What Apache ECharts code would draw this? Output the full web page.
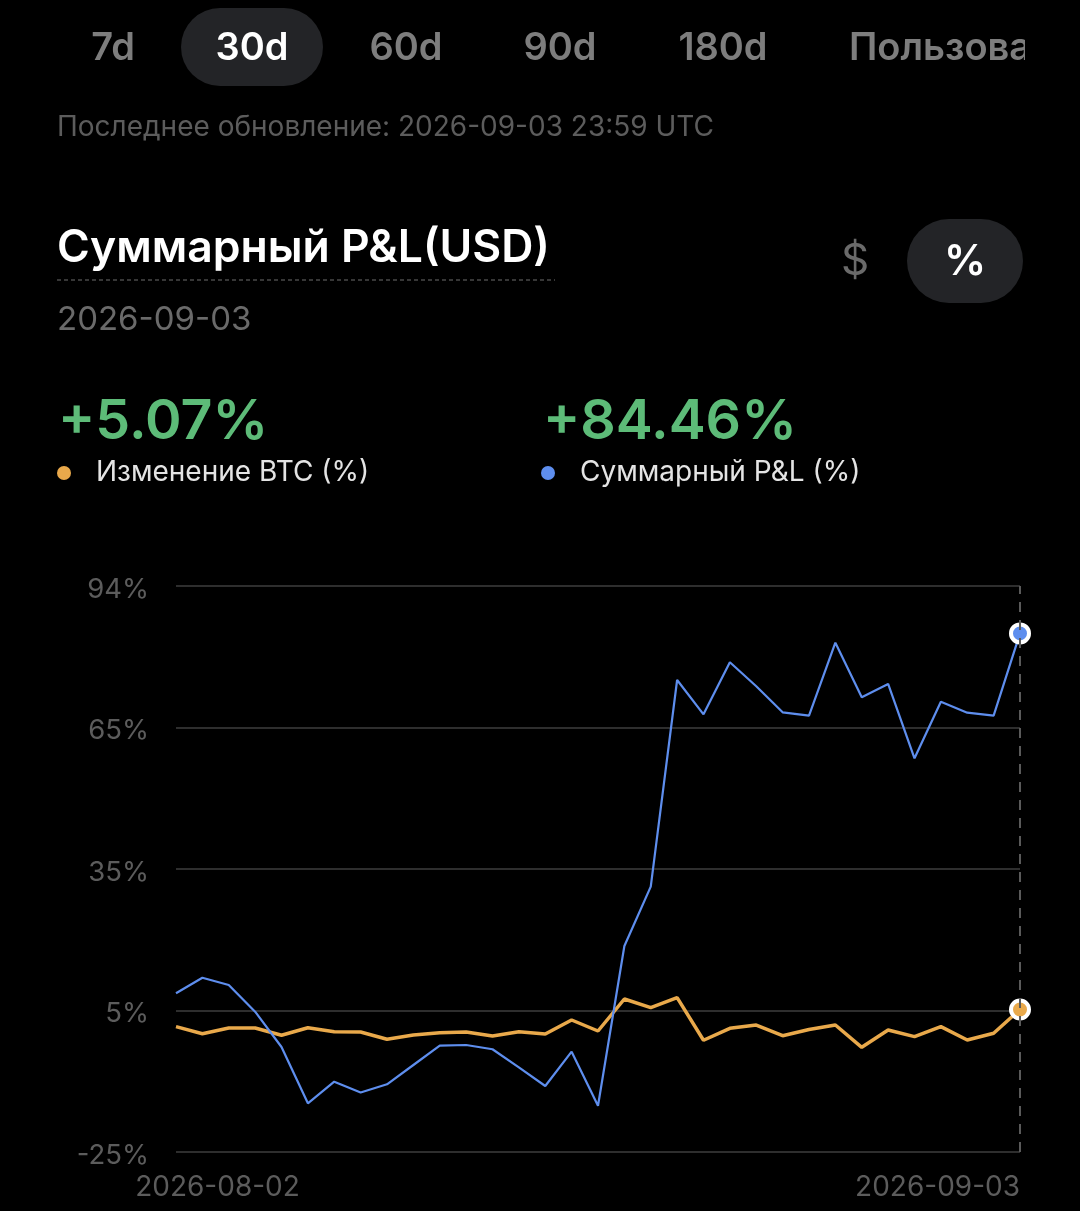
<!DOCTYPE html>
<html>
<head>
<meta charset="utf-8">
<style>
html,body{margin:0;padding:0;background:#000;}
#chart{width:1080px;height:1211px;}
</style>
<script src="https://cdn.jsdelivr.net/npm/echarts@6/dist/echarts.min.js"></script>
</head>
<body>
<div id="chart"></div>
<script>
const dates = [
  '2026-08-02','2026-08-03','2026-08-04','2026-08-05','2026-08-06','2026-08-07','2026-08-08',
  '2026-08-09','2026-08-10','2026-08-11','2026-08-12','2026-08-13','2026-08-14','2026-08-15',
  '2026-08-16','2026-08-17','2026-08-18','2026-08-19','2026-08-20','2026-08-21','2026-08-22',
  '2026-08-23','2026-08-24','2026-08-25','2026-08-26','2026-08-27','2026-08-28','2026-08-29',
  '2026-08-30','2026-08-31','2026-09-01','2026-09-02','2026-09-03'
];
const btcChange = [
  1.45, -0.03, 1.17, 1.17, -0.37, 1.23, 0.39, 0.33, -1.21, -0.31, 0.18,
  0.33, -0.52, 0.39, -0.10, 2.86, 0.54, 7.29, 5.46, 7.57, -1.42, 1.11,
  1.80, -0.45, 0.85, 1.80, -2.90, 0.75, -0.66, 1.45, -1.36, 0.05, 5.07
];
const totalPnl = [
  8.5, 11.79, 10.25, 4.61, -2.84, -14.72, -10.16, -12.44, -10.71, -6.64, -2.56,
  -2.42, -3.32, -7.12, -11.07, -3.83, -15.23, 18.48, 31.0, 74.62, 67.38, 78.36,
  73.29, 67.8, 67.09, 82.49, 70.97, 73.78, 58.09, 70.04, 67.72, 67.09, 84.46
];
const yTickValues = [-25, 4.865, 34.73, 64.595, 94.46];
const tabs = ['7d', '30d', '60d', '90d', '180d'];
const seriesNames = ['Изменение BTC (%)', 'Суммарный P&L (%)'];
const headline = ['+5.07%', '+84.46%'];

const ORANGE = '#e9a94b';
const BLUE = '#5e8eee';
const GREEN = '#5dbb78';
const FONT = 'Inter, "Noto Sans", sans-serif';

function lastMarked(arr, color) {
  return arr.map((v, i) => i === arr.length - 1 ? {
    value: v, symbol: 'circle', symbolSize: 18,
    itemStyle: { color: color, borderColor: '#ffffff', borderWidth: 4 }
  } : v);
}

const tabCenters = [113, 252, 406, 560, 723];
const graphic = [
  { type: 'rect', shape: { x: 181, y: 8, width: 142, height: 78, r: 39 }, style: { fill: '#232427' } }
];
tabs.forEach((t, i) => {
  graphic.push({ type: 'text', x: tabCenters[i], y: 49, style: {
    text: t, fill: i === 1 ? '#ffffff' : '#7d7d7d', font: '600 38px ' + FONT,
    textAlign: 'center', textVerticalAlign: 'middle' } });
});
graphic.push(
  { type: 'text', x: 849, y: 49, style: { text: 'Пользовательский', fill: '#7d7d7d', font: '600 38px ' + FONT,
    textAlign: 'left', textVerticalAlign: 'middle' } },
  { type: 'rect', shape: { x: 1025, y: 0, width: 55, height: 100 }, style: { fill: '#000000' } },
  { type: 'text', x: 57, y: 128, style: { text: 'Последнее обновление: 2026-09-03 23:59 UTC', fill: '#5c5c5c',
    font: '400 28px ' + FONT, textAlign: 'left', textVerticalAlign: 'middle' } },
  { type: 'text', x: 57, y: 249, style: { text: 'Суммарный P&L(USD)', fill: '#ffffff',
    font: '600 44.5px ' + FONT, textAlign: 'left', textVerticalAlign: 'middle' } },
  { type: 'line', shape: { x1: 57, y1: 280, x2: 555, y2: 280 }, style: { stroke: '#4a4a4a', lineWidth: 1.5, lineDash: [4, 3] } },
  { type: 'text', x: 57, y: 320, style: { text: '2026-09-03', fill: '#6a6a6a',
    font: '400 33px ' + FONT, textAlign: 'left', textVerticalAlign: 'middle' } },
  { type: 'text', x: 855, y: 262, style: { text: '$', fill: '#6a6a6a',
    font: '400 44px ' + FONT, textAlign: 'center', textVerticalAlign: 'middle' } },
  { type: 'rect', shape: { x: 907, y: 219, width: 116, height: 84, r: 42 }, style: { fill: '#232427' } },
  { type: 'text', x: 965, y: 262, style: { text: '%', fill: '#ffffff',
    font: '600 42px ' + FONT, textAlign: 'center', textVerticalAlign: 'middle' } },
  { type: 'text', x: 58, y: 422, style: { text: headline[0], fill: GREEN,
    font: '600 55.5px ' + FONT, textAlign: 'left', textVerticalAlign: 'middle' } },
  { type: 'text', x: 543, y: 422, style: { text: headline[1], fill: GREEN,
    font: '600 55.5px ' + FONT, textAlign: 'left', textVerticalAlign: 'middle' } },
  { type: 'circle', shape: { cx: 64, cy: 473, r: 7 }, style: { fill: ORANGE } },
  { type: 'text', x: 96, y: 473, style: { text: seriesNames[0], fill: '#e4e4e4',
    font: '400 28px ' + FONT, textAlign: 'left', textVerticalAlign: 'middle' } },
  { type: 'circle', shape: { cx: 548, cy: 473, r: 7 }, style: { fill: BLUE } },
  { type: 'text', x: 580, y: 473, style: { text: seriesNames[1], fill: '#e4e4e4',
    font: '400 28px ' + FONT, textAlign: 'left', textVerticalAlign: 'middle' } }
);

const chart = echarts.init(document.getElementById('chart'), null, { renderer: 'canvas' });
chart.setOption({
  backgroundColor: '#000000',
  animation: false,
  textStyle: { fontFamily: FONT },
  graphic: graphic,
  grid: { left: 176, right: 60, top: 586, bottom: 59, containLabel: false, outerBoundsMode: 'none' },
  xAxis: {
    type: 'category',
    data: dates,
    boundaryGap: false,
    axisLine: { show: false },
    axisTick: { show: false },
    splitLine: { show: false },
    axisLabel: {
      interval: (i) => i === 0 || i === dates.length - 1,
      margin: 22,
      color: '#5c5c5c',
      fontSize: 28,
      fontFamily: FONT,
      alignMaxLabel: 'right',
      formatter: (v, i) => i === 0 ? '{first|' + v + '}' : '{last|' + v + '}',
      rich: {
        first: { padding: [0, 0, 0, 83], fontSize: 28, color: '#5c5c5c', fontFamily: FONT },
        last: { padding: [0, 0, 0, 0], fontSize: 28, color: '#5c5c5c', fontFamily: FONT }
      }
    }
  },
  yAxis: {
    type: 'value',
    min: yTickValues[0],
    max: yTickValues[yTickValues.length - 1],
    axisLine: { show: false },
    axisTick: { show: false, customValues: yTickValues },
    axisLabel: {
      customValues: yTickValues,
      margin: 27,
      color: '#5c5c5c',
      fontSize: 27.5,
      fontFamily: FONT,
      formatter: (v) => '{a|' + Math.round(v) + '%}',
      rich: {
        a: { padding: [7, 0, 0, 0], fontSize: 27.5, color: '#5c5c5c', fontFamily: FONT }
      }
    },
    splitLine: { show: true, customValues: yTickValues, lineStyle: { color: '#2e2e2e', width: 2 } }
  },
  series: [
    {
      name: seriesNames[0], type: 'line', data: lastMarked(btcChange, ORANGE),
      symbol: 'none', showSymbol: true, showAllSymbol: true,
      lineStyle: { color: ORANGE, width: 3.5 }, itemStyle: { color: ORANGE }, z: 2,
      markLine: {
        silent: true, symbol: ['none', 'none'], label: { show: false },
        lineStyle: { color: '#5a5a5a', type: [10, 8], width: 2 },
        data: [{ xAxis: dates[dates.length - 1] }]
      }
    },
    {
      name: seriesNames[1], type: 'line', data: lastMarked(totalPnl, BLUE),
      symbol: 'none', showSymbol: true, showAllSymbol: true,
      lineStyle: { color: BLUE, width: 2.2 }, itemStyle: { color: BLUE }, z: 3
    }
  ]
});
</script>
</body>
</html>
